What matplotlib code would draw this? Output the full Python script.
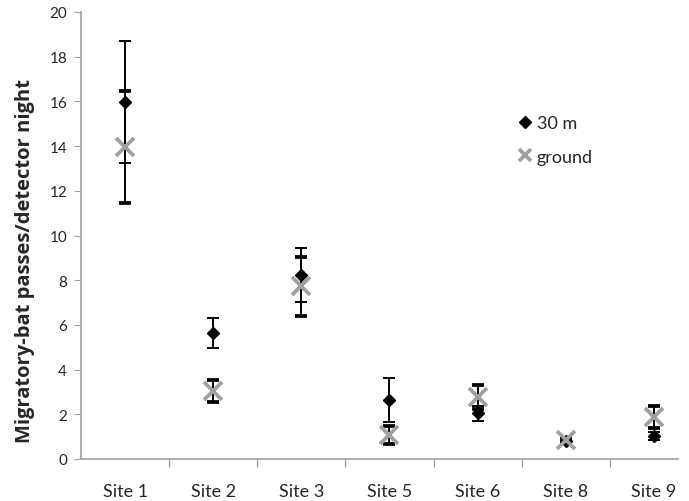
import matplotlib
matplotlib.use("Agg")
import matplotlib.pyplot as plt
import numpy as np
from matplotlib.lines import Line2D

sites = ["Site 1", "Site 2", "Site 3", "Site 5", "Site 6", "Site 8", "Site 9"]
m30 = [15.97, 5.64, 8.23, 2.64, 2.04, 0.80, 1.03]
m30_err = [2.72, 0.68, 1.22, 1.0, 0.33, 0.12, 0.2]
ground = [13.95, 3.05, 7.72, 1.07, 2.77, 0.85, 1.87]
ground_err = [2.5, 0.5, 1.3, 0.4, 0.52, 0.1, 0.5]

plt.rcParams['font.family'] = ['Lato', 'DejaVu Sans']
txt = '#262626'

fig = plt.figure(figsize=(6.89, 5.02), dpi=100)
L = 81 / 689
R = 698 / 689
B = 1 - 460 / 502
T = 1 - 13 / 502
ax = fig.add_axes([L, B, R - L, T - B])
x = np.arange(1, len(sites) + 1)

ax.errorbar(x, m30, yerr=m30_err, fmt='D', color='black', ms=6.5,
            ecolor='black', elinewidth=1.4, capsize=4, capthick=1.4,
            label='30 m', zorder=3)
ax.errorbar(x, ground, yerr=ground_err, fmt='x', color='#a0a0a0', ms=12.5,
            mew=2.7, ecolor='black', elinewidth=1.4, capsize=4, capthick=1.4,
            label='ground', zorder=4)

ax.set_xlim(0.5, 7.5)
ax.set_ylim(0, 20)
ax.set_yticks(np.arange(0, 21, 2))
ax.set_xticks(x)
ax.set_xticklabels(sites, fontsize=13, color=txt)
ax.set_xticks(np.arange(1.5, 7.5, 1), minor=True)
ax.tick_params(axis='x', which='major', length=0, pad=17)
ax.tick_params(axis='x', which='minor', length=6, color='#a0a0a0', width=1)
ax.tick_params(axis='y', labelsize=11, labelcolor=txt, length=5,
               color='#a0a0a0', pad=5)

for s in ['top', 'right']:
    ax.spines[s].set_visible(False)
for s in ['left', 'bottom']:
    ax.spines[s].set_color('#a0a0a0')
    ax.spines[s].set_linewidth(1.2)
ax.spines['bottom'].set_bounds(0.5, 7.27)

ax.set_ylabel('Migratory-bat passes/detector night', fontsize=14.5,
              fontweight='bold', color=txt, family=['Open Sans', 'DejaVu Sans'])
ax.yaxis.set_label_coords(-0.075, 0.445)

handles = [Line2D([], [], marker='D', color='black', ls='none', ms=6.5),
           Line2D([], [], marker='x', color='#a0a0a0', mew=2.7, ls='none', ms=8)]
ax.legend(handles, ['30 m', 'ground'], frameon=False, fontsize=13,
          labelcolor=txt, loc='upper left', bbox_to_anchor=(0.676, 0.805),
          handletextpad=0.05, handlelength=1.2, labelspacing=0.95)

fig.savefig('out.png', dpi=100)
